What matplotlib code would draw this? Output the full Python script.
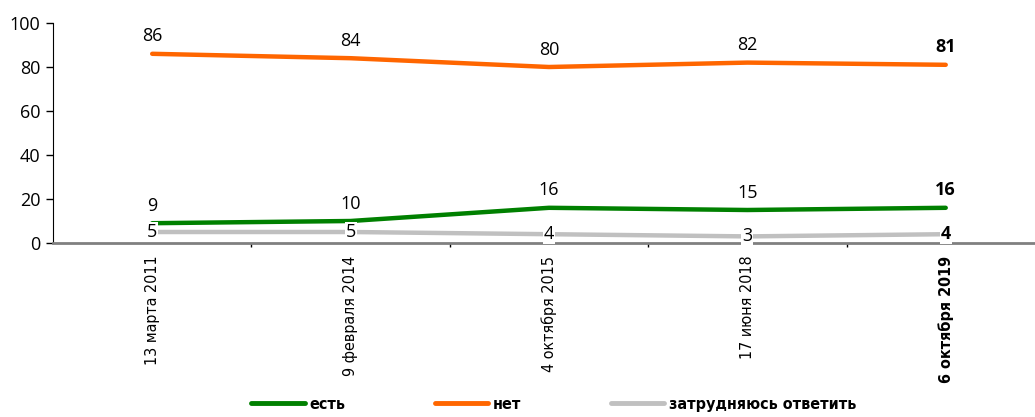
import matplotlib
matplotlib.use("Agg")
import matplotlib.pyplot as plt
from matplotlib.lines import Line2D

dates = ["13 марта 2011", "9 февраля 2014", "4 октября 2015", "17 июня 2018", "6 октября 2019"]
est = [9, 10, 16, 15, 16]
net = [86, 84, 80, 82, 81]
zatr = [5, 5, 4, 3, 4]

names = ["есть", "нет", "затрудняюсь ответить"]
colors = ["#008000", "#FF6600", "#C0C0C0"]

plt.rcParams['font.family'] = ['DejaVu Sans']

fig = plt.figure(figsize=(10.35, 4.17), dpi=100)
ax = fig.add_axes([53/1035, 1 - 243/417, 1 - 53/1035, 220/417])

x = list(range(len(dates)))
ax.plot(x, net, color=colors[1], lw=3.2, solid_capstyle='round', zorder=3)
ax.plot(x, est, color=colors[0], lw=3.2, solid_capstyle='round', zorder=3)
ax.plot(x, zatr, color=colors[2], lw=3.2, solid_capstyle='round', zorder=2)

lbl = dict(fontsize=13, family='Open Sans', fontstretch='normal')
for i in x:
    w = 'bold' if i == len(x) - 1 else 'normal'
    ax.annotate(str(net[i]), (i, net[i]), xytext=(0, 6), textcoords='offset points',
                ha='center', va='bottom', fontweight=w, **lbl)
    ax.annotate(str(est[i]), (i, est[i]), xytext=(0, 6), textcoords='offset points',
                ha='center', va='bottom', fontweight=w, **lbl)
    ax.annotate(str(zatr[i]), (i, zatr[i]), xytext=(0, 0), textcoords='offset points',
                ha='center', va='center', fontweight=w, zorder=4,
                bbox=dict(boxstyle='square,pad=0.05', fc='white', ec='none'), **lbl)

ax.set_xlim(-0.5, 4.45)
ax.set_ylim(0, 100)
ax.set_yticks([0, 20, 40, 60, 80, 100])
ax.set_yticklabels(["0", "20", "40", "60", "80", "100"], **lbl)
ax.tick_params(axis='y', length=5, width=1, colors='black', pad=4)

ax.set_xticks(x)
ax.set_xticklabels(dates, rotation=90, fontsize=11.5, fontstretch='condensed', va='top', ha='center')
ax.get_xticklabels()[-1].set_fontweight('bold')
ax.tick_params(axis='x', length=0, pad=9)
ax.set_xticks([0.5, 1.5, 2.5, 3.5], minor=True)
ax.tick_params(axis='x', which='minor', length=3, width=1, direction='out', colors='black')

for s in ['top', 'right']:
    ax.spines[s].set_visible(False)
ax.spines['left'].set_color('black')
ax.spines['bottom'].set_color('#808080')
ax.spines['bottom'].set_linewidth(2)

handles = [Line2D([0], [0], color=c, lw=3.5, solid_capstyle='round') for c in colors]
fig.legend(handles, names, loc='lower left', bbox_to_anchor=(251/1035, 0.012), ncol=3,
           frameon=False, handlelength=3.35, handletextpad=0.3, columnspacing=5.6,
           borderpad=0, borderaxespad=0,
           prop={'family': 'DejaVu Sans', 'stretch': 'condensed', 'size': 11.5, 'weight': 'bold'})

fig.savefig("out.png", dpi=100)
